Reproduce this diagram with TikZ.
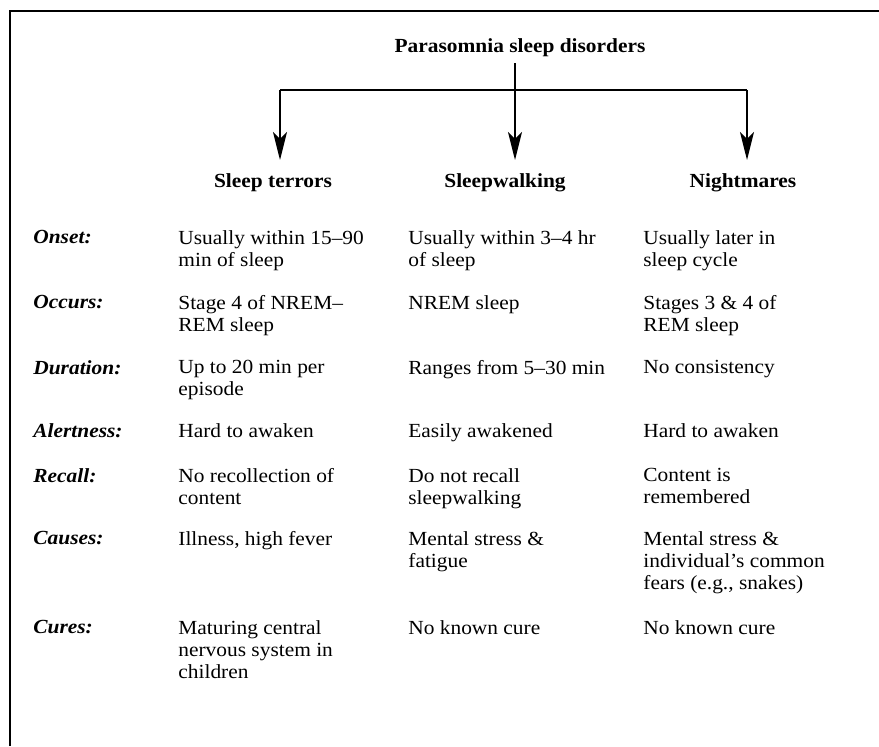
\documentclass[tikz,border=0pt]{standalone}
\usepackage{fontspec}
\setmainfont{Liberation Serif}[FakeStretch=1.07]
\usetikzlibrary{arrows.meta}
\tikzset{
  frameline/.style={line width=1.3pt},
  conn/.style={line width=1pt},
  arr/.style={line width=1pt,-{Stealth[length=14pt,width=7pt,inset=3.5pt]}},
  titlebox/.style={font=\fontsize{10}{11}\selectfont\bfseries, inner sep=3pt},
  hdr/.style={font=\fontsize{10}{11}\selectfont\bfseries, inner sep=0pt},
  lbl/.style={font=\fontsize{10}{11}\selectfont\bfseries\itshape, anchor=north west, inner sep=0pt, align=left},
  cell/.style={font=\fontsize{10}{11}\selectfont, anchor=north west, inner sep=0pt, align=left},
}
\begin{document}
\begin{tikzpicture}[x=0.5pt,y=-0.5pt]
\useasboundingbox (0,0) rectangle (879,746);
\draw[frameline] (10,746) -- (10,11) -- (879,11);

\node[titlebox] (title) at (520,48) {Parasomnia sleep disorders};
\node[hdr] (h1) at (273,183) {Sleep terrors};
\node[hdr] (h2) at (505,183) {Sleepwalking};
\node[hdr] (h3) at (743,183) {Nightmares};

\coordinate (j1) at (280,90);
\coordinate (j2) at (515,90);
\coordinate (j3) at (747,90);
\coordinate (t1) at (280,160);
\coordinate (t2) at (515,160);
\coordinate (t3) at (747,160);
\draw[conn] (title.south -| j2) -- (j2);
\draw[conn] (j1) -- (j3);
\draw[arr] (j1) -- (t1);
\draw[arr] (j2) -- (t2);
\draw[arr] (j3) -- (t3);

% Onset
\node[lbl] (l1) at (33,230) {Onset:};
\node[cell] (c11) at (178,230) {Usually within 15--90\\min of sleep};
\node[cell] (c12) at (408,230) {Usually within 3--4 hr\\of sleep};
\node[cell] (c13) at (643,230) {Usually later in\\sleep cycle};
% Occurs
\node[lbl] (l2) at (33,295) {Occurs:};
\node[cell] (c21) at (178,295) {Stage 4 of NREM--\\REM sleep};
\node[cell] (c22) at (408,295) {NREM sleep};
\node[cell] (c23) at (643,295) {Stages 3 \& 4 of\\REM sleep};
% Duration
\node[lbl] (l3) at (33,360) {Duration:};
\node[cell] (c31) at (178,360) {Up to 20 min per\\episode};
\node[cell] (c32) at (408,360) {Ranges from 5--30 min};
\node[cell] (c33) at (643,360) {No consistency};
% Alertness
\node[lbl] (l4) at (33,423) {Alertness:};
\node[cell] (c41) at (178,423) {Hard to awaken};
\node[cell] (c42) at (408,423) {Easily awakened};
\node[cell] (c43) at (643,423) {Hard to awaken};
% Recall
\node[lbl] (l5) at (33,468) {Recall:};
\node[cell] (c51) at (178,468) {No recollection of\\content};
\node[cell] (c52) at (408,468) {Do not recall\\sleepwalking};
\node[cell] (c53) at (643,468) {Content is\\remembered};
% Causes
\node[lbl] (l6) at (33,531) {Causes:};
\node[cell] (c61) at (178,531) {Illness, high fever};
\node[cell] (c62) at (408,531) {Mental stress \&\\fatigue};
\node[cell] (c63) at (643,531) {Mental stress \&\\individual's common\\fears (e.g., snakes)};
% Cures
\node[lbl] (l7) at (33,620) {Cures:};
\node[cell] (c71) at (178,620) {Maturing central\\nervous system in\\children};
\node[cell] (c72) at (408,620) {No known cure};
\node[cell] (c73) at (643,620) {No known cure};
\end{tikzpicture}
\end{document}
